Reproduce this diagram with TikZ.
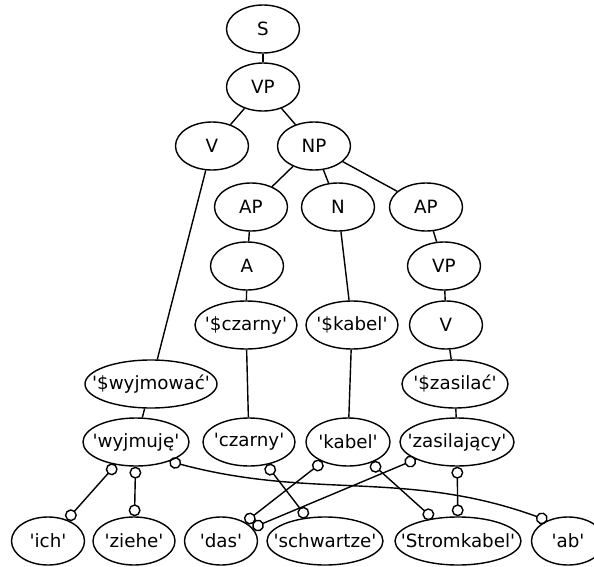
\documentclass[tikz,border=0pt]{standalone}
\usepackage{fontspec}
\setmainfont{DejaVu Sans}
\usepackage{tikz}
\usetikzlibrary{shapes.geometric,arrows.meta}

\newcommand\lb[1]{\makebox[0pt]{\textquotesingle#1\textquotesingle}}

\begin{document}
\begin{tikzpicture}[x=0.025cm,y=-0.025cm,
    tnode/.style={draw,ellipse,line width=1pt,minimum width=1.825cm,minimum height=1.2cm,inner sep=0pt,font=\fontsize{13}{15}\selectfont},
    link/.style={line width=1pt,{Circle[open,length=8.5pt]}-{Circle[open,length=8.5pt]}}]
      \useasboundingbox (0,0) rectangle (594,567);
      % syntax tree
      \node[tnode] (s) at (263,29) {S};
      \node[tnode] (vp) at (263,87) {VP};
      \node[tnode] (v) at (212,146) {V};
      \node[tnode] (np) at (314,146) {NP};
      \node[tnode] (ap1) at (251,207) {AP};
      \node[tnode] (n) at (338,207) {N};
      \node[tnode] (ap2) at (426,207) {AP};
      \node[tnode] (a) at (247,266) {A};
      \node[tnode] (vp2) at (444,266) {VP};
      \node[tnode,minimum width=2.55cm] (czarnyS) at (246,325) {\lb{\$czarny}};
      \node[tnode,minimum width=2.3cm] (kabelS) at (352,325) {\lb{\$kabel}};
      \node[tnode] (v2) at (446,325) {V};
      \node[tnode,minimum width=3.3cm] (wyjmowacS) at (151,384) {\lb{\$wyjmować}};
      \node[tnode,minimum width=2.65cm] (zasilacS) at (455,384) {\lb{\$zasilać}};
      % polish words
      \node[tnode,minimum width=2.65cm] (wyjmuje) at (136,442) {\lb{wyjmuję}};
      \node[tnode,minimum width=2.3cm] (czarny) at (249,442) {\lb{czarny}};
      \node[tnode,minimum width=2.1cm] (kabel) at (348,442) {\lb{kabel}};
      \node[tnode,minimum width=2.85cm] (zasilajacy) at (457,442) {\lb{zasilający}};
      % german words
      \node[tnode] (ich) at (48,541) {\lb{ich}};
      \node[tnode,minimum width=2.05cm] (ziehe) at (134,541) {\lb{ziehe}};
      \node[tnode] (das) at (221,541) {\lb{das}};
      \node[tnode,minimum width=2.9cm] (schwartze) at (325,541) {\lb{schwartze}};
      \node[tnode,minimum width=3.15cm] (stromkabel) at (458,541) {\lb{Stromkabel}};
      \node[tnode] (ab) at (568,541) {\lb{ab}};
      \begin{scope}[line width=1pt]
        \draw (s) -- (vp);
        \draw (vp) -- (v);
        \draw (vp) -- (np);
        \draw (np) -- (ap1);
        \draw (np) -- (n);
        \draw (np) -- (ap2);
        \draw (ap1) -- (a);
        \draw (a) -- (czarnyS);
        \draw (czarnyS) -- (czarny);
        \draw (n) -- (kabelS);
        \draw (kabelS) -- (kabel);
        \draw (ap2) -- (vp2);
        \draw (vp2) -- (v2);
        \draw (v2) -- (zasilacS);
        \draw (zasilacS) -- (zasilajacy);
        \draw (v) -- (wyjmowacS);
        \draw (wyjmowacS) -- (wyjmuje);
      \end{scope}
      \draw[link] (wyjmuje) -- (ich);
      \draw[link] (wyjmuje) -- (ziehe);
      \draw[link] (wyjmuje.-30) to[out=-15,in=160] (ab.135);
      \draw[link] (czarny) -- (schwartze);
      \draw[link] (kabel) -- (das);
      \draw[link] (kabel) -- (stromkabel);
      \draw[link] (zasilajacy) -- (das);
      \draw[link] (zasilajacy) -- (stromkabel);
    \end{tikzpicture}
\end{document}
